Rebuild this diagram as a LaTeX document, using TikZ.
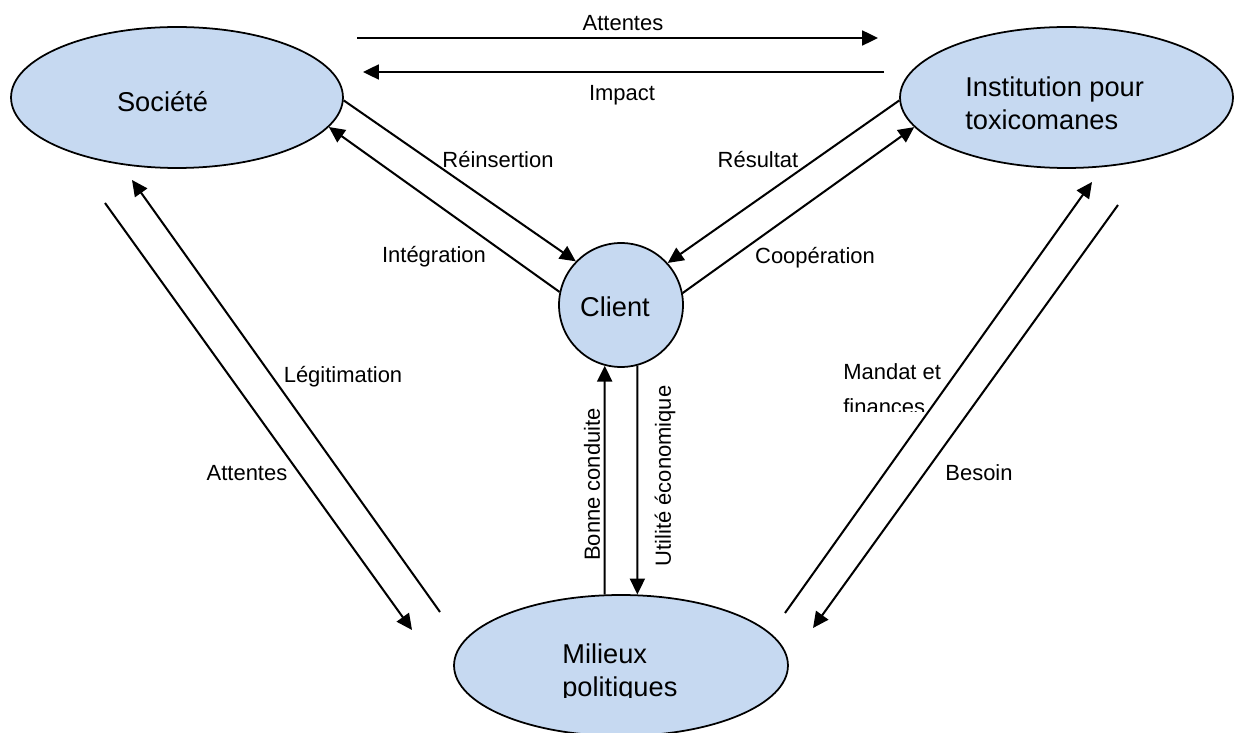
\documentclass[tikz,border=0pt]{standalone}
\usepackage{fontspec}
\setmainfont{Liberation Sans}
\usetikzlibrary{shapes.geometric,arrows.meta}

\begin{document}
\begin{tikzpicture}
	[x=0.02cm,y=-0.02cm,line cap=butt,
	%Styles
	bubble/.style={ellipse,draw=black,line width=1pt,fill=bubblefill,inner sep=0pt,minimum width=6.64cm,minimum height=2.82cm},
	round node/.style={circle,draw=black,line width=1pt,fill=bubblefill,inner sep=0pt,minimum size=2.48cm},
	name text/.style={font=\fontsize{15.5}{18.8}\selectfont,align=left,inner sep=0pt},
	flow/.style={line width=1.15pt,-{Triangle[length=9pt,width=8.5pt]}},
	flow label/.style={font=\fontsize{12.5}{15}\selectfont,inner sep=0pt}
	]
	
	%Colors
	\definecolor{bubblefill}{HTML}{C6D9F1}	%ellipse and circle fill
	
	%Frame
	\useasboundingbox (0,0) rectangle (1235,733);
	\clip (0,0) rectangle (1235,733);
	
	%The actors
	\node[bubble] (soc) at (177,97.5) {};
	\node[bubble,minimum width=6.66cm] (inst) at (1066.5,97.5) {};
	\node[round node] (cl) at (621,305) {};
	\node[bubble,minimum width=6.68cm] (mil) at (621,665.5) {};
	
	\node[name text] (soc text) at (162.5,102) {Société};
	\node[name text,anchor=west] (inst text) at (965,103.5) {Institution pour\\toxicomanes};
	\node[name text] (cl text) at (615,307) {Client};
	\begin{scope}
		\clip (450,600) rectangle (800,697);
		\node[name text,anchor=west] (mil text) at (562,673) {Milieux\\politiques};
	\end{scope}
	
	%Free ends of the long arrows
	\coordinate (att top start) at (357,38);
	\coordinate (att top end) at (878,38);
	\coordinate (imp start) at (884,72);
	\coordinate (imp end) at (363,72);
	\coordinate (leg start) at (440,612);
	\coordinate (leg end) at (132,180);
	\coordinate (att start) at (105,203);
	\coordinate (att end) at (412,630);
	\coordinate (man start) at (785,613);
	\coordinate (man end) at (1092,182);
	\coordinate (bes start) at (1118,205);
	\coordinate (bes end) at (813,628);
	
	\foreach \from/\to in {att top start/att top end,imp start/imp end,leg start/leg end,att start/att end,man start/man end,bes start/bes end}
		\draw[flow] (\from) -- (\to);
	
	%Arrows touching the client
	\draw[flow] (soc.-1) -- (cl.136);
	\draw[flow] (cl.168) -- (soc.-11);
	\draw[flow] (inst.181) -- (cl.42);
	\draw[flow] (cl.11) -- (inst.191);
	\draw[flow] (mil.103) -- (cl.255);
	\draw[flow] (cl.285) -- (mil.77);
	
	%Labels
	\node[flow label] (lab att top) at (623,23) {Attentes};
	\node[flow label] (lab imp) at (622,95) {Impact};
	\node[flow label] (lab rein) at (498,160) {Réinsertion};
	\node[flow label] (lab integ) at (434,257) {Intégration};
	\node[flow label] (lab res) at (758,160) {Résultat};
	\node[flow label] (lab coop) at (815,258) {Coopération};
	\node[flow label,rotate=90] (lab bonne) at (592,484.5) {Bonne conduite};
	\node[flow label,rotate=90] (lab util) at (665,476) {Utilité économique};
	\node[flow label] (lab leg) at (343,377) {Légitimation};
	\node[flow label] (lab att) at (247,473) {Attentes};
	\node[flow label] (lab bes) at (979,473) {Besoin};
	\begin{scope}
		\clip (830,350) rectangle (960,412);
		\node[flow label,anchor=west,align=left,font=\fontsize{12.5}{20}\selectfont] (lab man) at (843,389) {Mandat et\\finances};
	\end{scope}
\end{tikzpicture}
\end{document}
